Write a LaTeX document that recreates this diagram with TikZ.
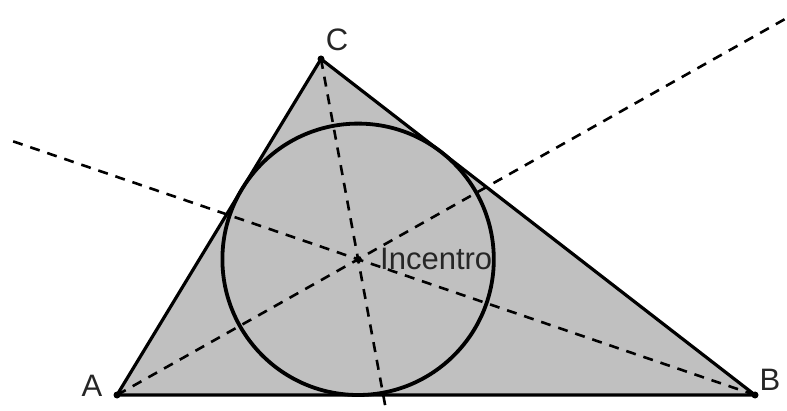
\documentclass[tikz,border=0pt]{standalone}
\usepackage{fontspec}
\setmainfont{Liberation Sans}
\usetikzlibrary{calc}
\definecolor{fillgray}{RGB}{192,192,192}
\tikzset{
  side/.style={line width=3.2pt, line join=round},
  incircle/.style={line width=3.8pt},
  bisector/.style={line width=2.6pt, dash pattern=on 10pt off 8pt},
  vertexdot/.style={circle, fill=black, inner sep=0pt, minimum size=7pt},
  lbl/.style={font=\fontsize{31}{32}\selectfont, text=black!85, inner sep=0pt}
}
\begin{document}
\begin{tikzpicture}[x=1pt,y=-1pt]
\useasboundingbox (0,0) rectangle (787,411);
\coordinate (A) at (117,395);
\coordinate (B) at (755,395);
\coordinate (C) at (321,59);
\coordinate (I) at (358.1,259.3);
% triangle fill
\fill[fillgray] (A) -- (B) -- (C) -- cycle;
% bisectors
\coordinate (Aend) at ($(A)!2.79!(I)$);
\coordinate (Bend) at ($(B)!1.88!(I)$);
\coordinate (Cend) at ($(C)!1.78!(I)$);
\draw[bisector] (A) -- (Aend);
\draw[bisector] (B) -- (Bend);
\draw[bisector] (C) -- (Cend);
% incircle
\draw[incircle] (I) circle[radius=135.7];
% sides
\draw[side] (A) -- (B) -- (C) -- cycle;
% points
\node[vertexdot] (pA) at (A) {};
\node[vertexdot] (pB) at (B) {};
\node[vertexdot] (pC) at (C) {};
\node[vertexdot] (pI) at (I) {};
% labels
\node[lbl] (lA) at (92,386) {A};
\node[lbl] (lB) at (770,380) {B};
\node[lbl] (lC) at (337,40) {C};
\node[lbl, anchor=west] (lI) at (380,259) {Incentro};
\end{tikzpicture}
\end{document}
